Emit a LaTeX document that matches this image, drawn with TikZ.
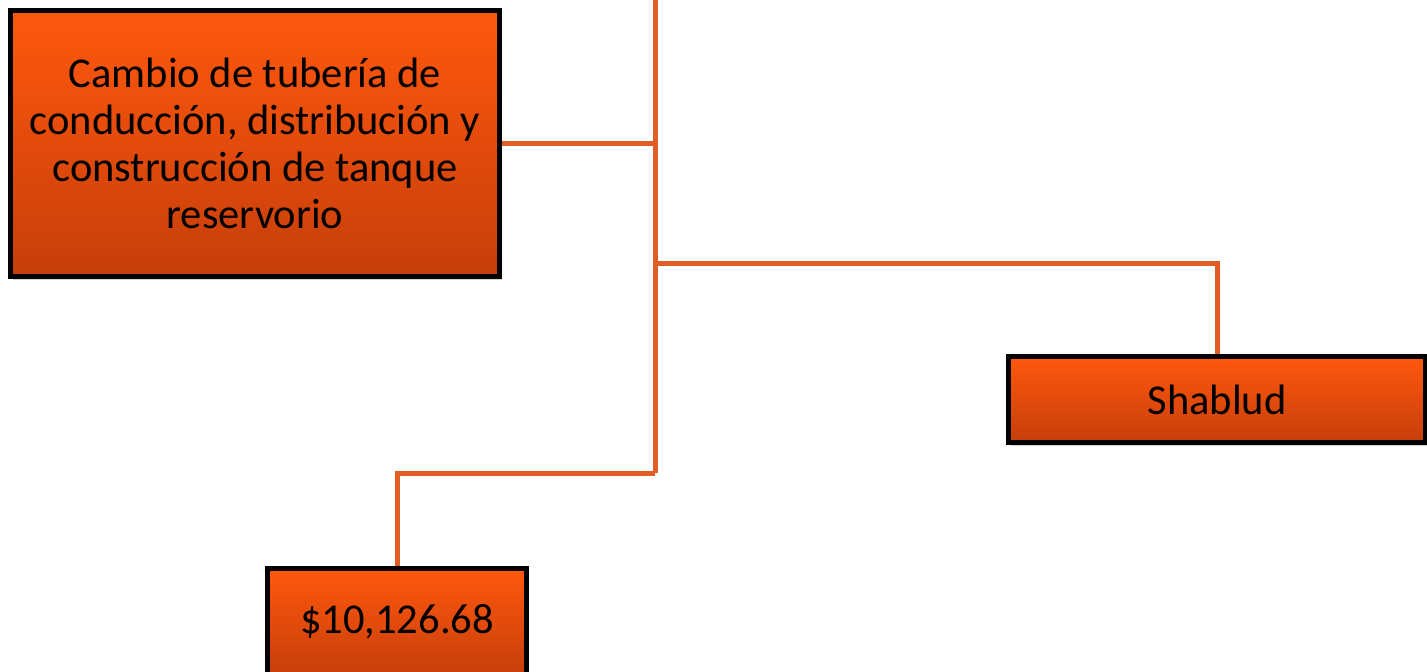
\documentclass[tikz,border=0pt]{standalone}
\usepackage{fontspec}
\setmainfont{Carlito}
\usetikzlibrary{shadows}
\definecolor{boxtop}{RGB}{255,88,14}
\definecolor{boxbot}{RGB}{198,62,10}
\definecolor{linkcol}{RGB}{224,94,38}
\begin{document}
\begin{tikzpicture}[x=1pt, y=-1pt,
	boxnode/.style = {draw = black, line width = 5pt, top color = boxtop, bottom color = boxbot,
		align = center, inner sep = 0pt, font = \fontsize{42.5}{47}\selectfont,
		drop shadow = {shadow xshift = 2pt, shadow yshift = -3pt, opacity = 0.35}},
	link/.style = {draw = linkcol, line width = 5pt}]
		\useasboundingbox (0,0) rectangle (1427,672);
		
		\node[boxnode, minimum width = 489pt, minimum height = 266pt] (cambio) at (255,143.5)
			{Cambio de tubería de\\conducción, distribución y\\construcción de tanque\\reservorio};
		\node[boxnode, minimum width = 417pt, minimum height = 86pt] (shablud) at (1217,399.5) {Shablud};
		\node[boxnode, minimum width = 259pt, minimum height = 107pt] (costo) at (397,622) {\$10,126.68};
		
		\coordinate (top) at (655,0);
		\coordinate (hub) at (655,473);
		\coordinate (split) at (655,263);
		
		\draw[link] (top) -- (hub);
		\draw[link] (cambio.east) -- (cambio.east -| top);
		\draw[link] (split) -| (shablud.north);
		\draw[link] (hub) -| (costo.north);
\end{tikzpicture}
\end{document}
